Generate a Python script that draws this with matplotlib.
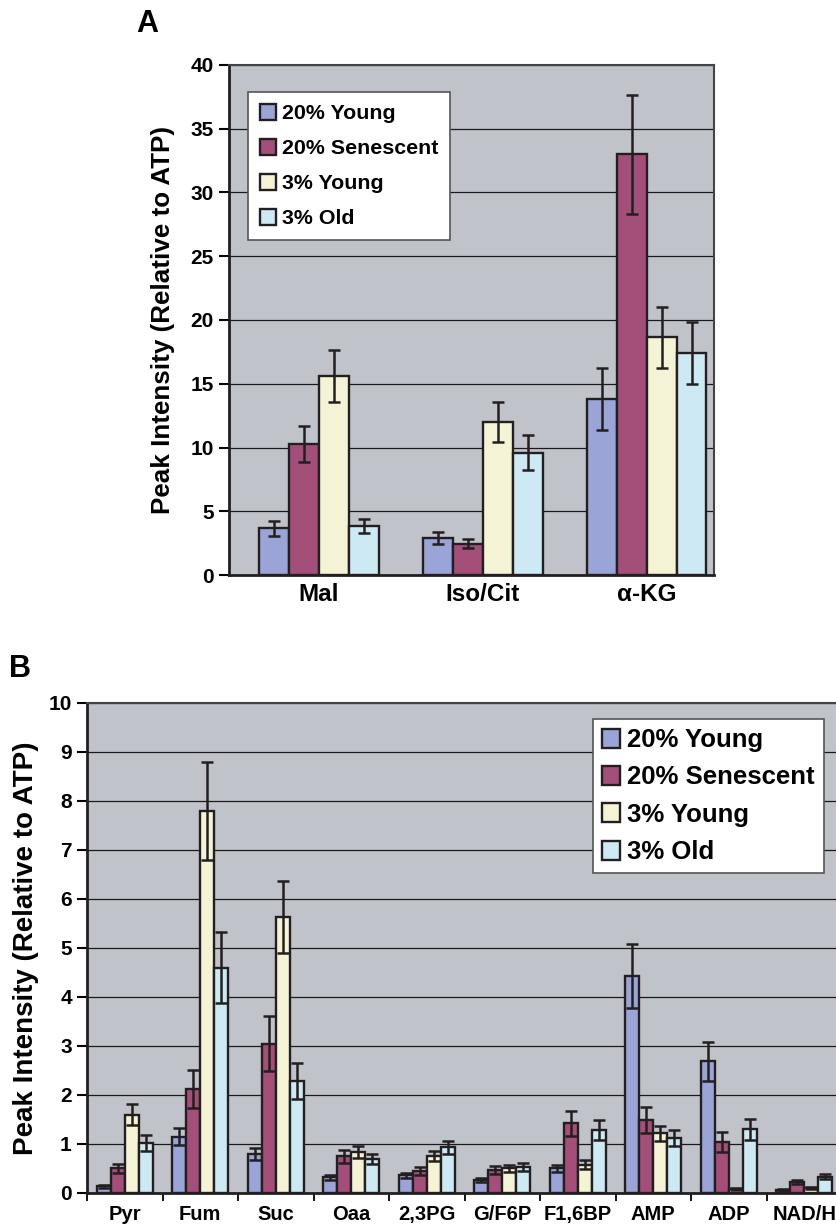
import matplotlib
matplotlib.use("Agg")
import matplotlib.pyplot as plt
import numpy as np

plt.rcParams['font.family'] = ['Liberation Sans', 'DejaVu Sans']
plt.rcParams['font.weight'] = 'bold'

grupos = ['20% Young', '20% Senescent', '3% Young', '3% Old']
colores = ['#9aa4d6', '#a34f7a', '#f4f3d6', '#cdeaf4']

# panel A
metab_a = ['Mal', 'Iso/Cit', '\u03b1-KG']
young20_a = [3.65, 2.9, 13.8]
senes20_a = [10.25, 2.45, 33.0]
young3_a = [15.6, 12.0, 18.65]
old3_a = [3.85, 9.6, 17.4]
err_young20_a = [0.6, 0.5, 2.4]
err_senes20_a = [1.4, 0.35, 4.65]
err_young3_a = [2.05, 1.6, 2.4]
err_old3_a = [0.55, 1.38, 2.45]

# panel B
metab_b = ['Pyr', 'Fum', 'Suc', 'Oaa', '2,3PG', 'G/F6P', 'F1,6BP', 'AMP', 'ADP', 'NAD/H']
young20_b = [0.14, 1.15, 0.8, 0.32, 0.36, 0.27, 0.5, 4.43, 2.69, 0.07]
senes20_b = [0.5, 2.12, 3.05, 0.75, 0.45, 0.47, 1.42, 1.49, 1.04, 0.22]
young3_b = [1.6, 7.8, 5.63, 0.84, 0.76, 0.5, 0.58, 1.22, 0.09, 0.1]
old3_b = [1.02, 4.6, 2.29, 0.7, 0.93, 0.53, 1.29, 1.12, 1.3, 0.33]
err_young20_b = [0.03, 0.17, 0.12, 0.05, 0.05, 0.04, 0.07, 0.66, 0.4, 0.02]
err_senes20_b = [0.09, 0.38, 0.56, 0.13, 0.08, 0.08, 0.25, 0.27, 0.2, 0.04]
err_young3_b = [0.22, 1.0, 0.73, 0.12, 0.1, 0.08, 0.09, 0.15, 0.02, 0.02]
err_old3_b = [0.17, 0.73, 0.37, 0.1, 0.14, 0.09, 0.2, 0.17, 0.21, 0.05]


def barras(ax, nombres, series, errores, ancho):
    x = np.arange(len(nombres))
    for i in range(4):
        pos = x + (i - 1.5) * ancho
        ax.bar(pos, series[i], ancho, color=colores[i], edgecolor='#231f20',
               linewidth=1.7, label=grupos[i], zorder=3)
        ax.errorbar(pos, series[i], yerr=errores[i], fmt='none', ecolor='#231f20',
                    elinewidth=1.8, capsize=4, capthick=1.8, zorder=4)
    ax.set_facecolor('#c0c3ca')
    ax.yaxis.grid(True, color='#1a1a1a', linewidth=0.9, zorder=0)
    ax.set_axisbelow(True)
    for lado in ['top', 'right']:
        ax.spines[lado].set_color('#444444')
        ax.spines[lado].set_linewidth(1.5)
    for lado in ['left', 'bottom']:
        ax.spines[lado].set_color('#231f20')
        ax.spines[lado].set_linewidth(2)
    return x


fig = plt.figure(figsize=(8.37, 12.30), dpi=100)

# ----- A -----
axA = fig.add_axes([0.2736, 0.5325, 0.5794, 0.4147])
xa = barras(axA, metab_a, [young20_a, senes20_a, young3_a, old3_a],
            [err_young20_a, err_senes20_a, err_young3_a, err_old3_a], 0.182)
axA.set_xlim(-0.549, 2.41)
axA.set_ylim(0, 40)
axA.set_yticks(np.arange(0, 41, 5))
axA.set_xticks(xa)
axA.set_xticklabels(metab_a, fontsize=17.5, fontweight='bold')
axA.tick_params(axis='x', length=0, pad=6)
axA.tick_params(axis='y', length=7, width=1.5, direction='out', labelsize=15, pad=4)
axA.set_ylabel('Peak Intensity (Relative to ATP)', fontsize=18.7, fontweight='bold', labelpad=11)
legA = axA.legend(loc='upper left', bbox_to_anchor=(0.039, 0.947), borderaxespad=0,
                  fontsize=15.4, frameon=True, fancybox=False, edgecolor='#555555',
                  framealpha=1, handlelength=0.75, handleheight=0.8, handletextpad=0.3,
                  labelspacing=0.72, borderpad=0.55)
legA.get_frame().set_linewidth(1.2)
fig.text(0.163, 0.993, 'A', fontsize=22, fontweight='bold', va='top', ha='left')

# ----- B -----
axB = fig.add_axes([0.104, 0.0301, 0.902, 0.3984])
xb = barras(axB, metab_b, [young20_b, senes20_b, young3_b, old3_b],
            [err_young20_b, err_senes20_b, err_young3_b, err_old3_b], 0.186)
axB.set_xlim(-0.5, 9.5)
axB.set_ylim(0, 10)
axB.set_yticks(np.arange(0, 11, 1))
axB.set_xticks(xb)
axB.set_xticks(np.arange(-0.5, 10, 1), minor=True)
axB.set_xticklabels(metab_b, fontsize=14.5, fontweight='bold')
axB.tick_params(axis='x', which='major', length=0, pad=9)
axB.tick_params(axis='x', which='minor', length=6, width=1.3)
axB.tick_params(axis='y', length=7, width=1.5, direction='out', labelsize=15, pad=4)
axB.set_ylabel('Peak Intensity (Relative to ATP)', fontsize=20, fontweight='bold', labelpad=7)
legB = axB.legend(loc='upper right', bbox_to_anchor=(0.976, 0.967), borderaxespad=0,
                  fontsize=18.5, frameon=True, fancybox=False, edgecolor='#555555',
                  framealpha=1, handlelength=0.7, handleheight=0.75, handletextpad=0.3,
                  labelspacing=0.52, borderpad=0.35)
legB.get_frame().set_linewidth(1.2)
fig.text(0.011, 0.468, 'B', fontsize=22, fontweight='bold', va='top', ha='left')

fig.savefig('out.png', dpi=100)
